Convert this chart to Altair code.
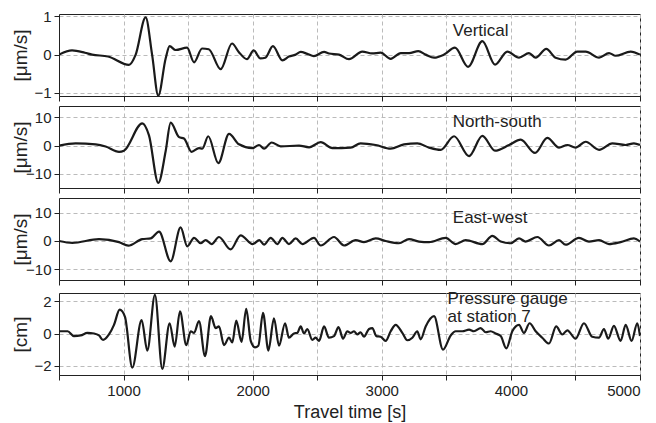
import altair as alt
import pandas as pd

# ---------------- data ----------------
t_vert = [500, 601, 700, 756, 880, 1042, 1094, 1171, 1221, 1269, 1326, 1357, 1403, 1492, 1546,
          1608, 1660, 1752, 1840, 1892, 1956, 2008, 2060, 2098, 2157, 2230, 2281, 2333, 2372,
          2423, 2474, 2553, 2591, 2669, 2746, 2849, 2925, 2991, 3069, 3147, 3211, 3283, 3340,
          3405, 3482, 3567, 3668, 3779, 3877, 3972, 4063, 4140, 4192, 4274, 4346, 4424, 4514,
          4579, 4683, 4760, 4811, 4928, 5000]
v_vert = [0.0, 0.11, 0.05, 0.0, -0.05, -0.27, 0.0, 0.97, 0.0, -1.07, -0.1, 0.22, 0.12, 0.18, -0.2,
          0.16, 0.14, -0.38, 0.29, 0.07, -0.12, 0.11, -0.1, -0.08, 0.22, -0.15, -0.05, 0.0, 0.07,
          0.02, -0.04, 0.07, 0.03, 0.0, -0.12, 0.08, 0.03, 0.05, -0.11, 0.04, 0.04, 0.09, 0.0,
          -0.08, 0.0, 0.18, -0.32, 0.35, -0.26, 0.08, -0.08, 0.04, -0.08, 0.15, -0.08, -0.13, 0.08,
          0.08, -0.08, 0.04, -0.03, 0.08, 0.0]

t_ns = [500, 629, 784, 861, 965, 1003, 1145, 1197, 1269, 1326, 1365, 1430, 1468, 1527, 1584,
        1610, 1656, 1734, 1817, 1894, 1997, 2049, 2088, 2147, 2217, 2359, 2437, 2527, 2617,
        2759, 2836, 2953, 3069, 3172, 3275, 3366, 3456, 3560, 3676, 3779, 3877, 3986, 4076,
        4187, 4282, 4373, 4437, 4501, 4579, 4683, 4786, 4889, 4953, 5000]
v_ns = [0.0, 0.8, 0.45, -0.3, -2.2, -1.8, 7.85, 3.6, -13.2, -2.0, 8.1, 3.0, 2.5, -2.2, -0.9,
        -1.1, 3.3, -6.2, 4.15, 0.45, -0.9, 0.2, -1.1, 1.1, -0.3, 0.0, -0.6, 1.2, -0.9,
        -0.7, 0.8, 0.2, -1.1, 0.45, 0.8, -0.7, -1.5, 3.3, -3.7, 3.4, -1.8, 0.2, 2.1,
        -2.6, 2.7, -0.7, 0.2, -0.7, 1.35, -1.5, 0.8, 0.2, 0.8, 0.2]

t_ew = [500, 603, 810, 965, 1037, 1145, 1210, 1275, 1365, 1442, 1494, 1546, 1597, 1636, 1682,
        1739, 1829, 1907, 2000, 2052, 2088, 2140, 2191, 2230, 2281, 2333, 2385, 2475, 2527,
        2630, 2708, 2798, 2862, 2953, 3030, 3133, 3211, 3288, 3366, 3495, 3572, 3650, 3779,
        3856, 3921, 3998, 4063, 4114, 4205, 4295, 4373, 4424, 4527, 4605, 4683, 4760, 4850,
        4953, 5000]
v_ew = [0.0, -0.67, 0.67, -0.4, -1.67, 0.67, 0.9, 3.3, -7.2, 4.8, -1.9, 1.1, -0.8, 0.33, -1.1,
        1.4, -3.0, 2.0, -1.1, 0.3, -1.3, 1.1, -1.1, 1.1, -1.1, 0.9, -1.1, 1.1, -1.6,
        1.4, -1.6, 0.3, -0.4, 0.9, 0.0, -0.8, 0.67, -0.2, -0.4, 1.1, -1.1, 0.3, -1.1,
        1.8, -0.2, -0.8, 0.9, -0.2, 1.4, -1.6, 0.3, -1.3, 1.1, -0.2, 0.3, -1.1, -0.4,
        0.9, -0.2]

t_pg = [500, 567, 616, 668, 720, 771, 810, 841, 887, 926, 970, 1011, 1068, 1140, 1184, 1243,
        1300, 1357, 1396, 1437, 1486, 1520, 1546, 1584, 1631, 1677, 1713, 1739, 1778, 1817,
        1842, 1873, 1914, 1950, 1985, 2018, 2044, 2080, 2122, 2165, 2204, 2251, 2281, 2320,
        2346, 2372, 2398, 2423, 2462, 2488, 2514, 2553, 2591, 2630, 2665, 2700, 2733, 2759,
        2785, 2810, 2836, 2862, 2901, 2927, 2958, 2991, 3030, 3069, 3108, 3159, 3198, 3237,
        3275, 3301, 3340, 3405, 3474, 3534, 3572, 3624, 3676, 3714, 3766, 3805, 3843, 3882,
        3921, 3965, 4011, 4063, 4101, 4145, 4192, 4243, 4295, 4351, 4398, 4437, 4501, 4566,
        4630, 4682, 4721, 4754, 4798, 4850, 4889, 4935, 4979, 5000]
v_pg = [0.14, 0.14, -0.16, -0.12, 0.04, 0.0, -0.12, -0.4, -0.06, 0.54, 1.48, 1.04, -2.12, 0.84, -1.06, 2.4,
        -2.2, 0.64, -0.82, 1.38, -0.72, 0.14, 0.04, 0.78, -1.4, 1.08, 0.34, 0.44, -0.72, -0.26,
        -0.56, 0.8, -0.52, 1.54, -0.46, -0.86, -0.76, 1.28, -1.06, 0.94, -0.76, 0.64, -0.26, 0.0,
        0.04, 0.44, 0.0, 0.28, -0.4, -0.26, -0.46, 0.44, -0.26, -0.16, 0.4, -0.32, 0.14, 0.04,
        0.14, -0.06, 0.08, -0.2, 0.28, 0.34, -0.16, -0.2, -0.46, 0.14, 0.54, 0.04, -0.42, -0.26,
        0.14, -0.36, 0.44, 1.08, -1.0, -0.12, 0.14, 0.14, 0.24, 0.14, 0.34, 0.08, 0.14, 0.0,
        -0.16, -0.92, 0.14, 0.54, 0.04, 0.64, 0.14, -0.26, -0.62, 0.44, -0.06, 0.2, -0.32, 0.64,
        -0.2, -0.26, 0.28, -0.32, 0.48, -0.46, 0.54, -0.46, 0.64, -0.16]

panel_units = ["[μm/s]", "[μm/s]", "[μm/s]", "[cm]"]
panel_ticks = [[-1, 0, 1], [-10, 0, 10], [-10, 0, 10], [-2, 0, 2]]
panel_domains = [[-1.08, 1.06], [-15, 14], [-13.8, 15.2], [-2.58, 2.52]]

label_lines = [["Vertical"], ["North-south"], ["East-west"], ["Pressure gauge", "at station 7"]]
label_x = [[3550], [3550], [3550], [3510, 3510]]
label_y = [[0.62], [8.4], [8.1], [2.12, 1.0]]

x_ticks = [500, 1000, 1500, 2000, 2500, 3000, 3500, 4000, 4500, 5000]
x_domain = [500, 5000]

series_t = [t_vert, t_ns, t_ew, t_pg]
series_v = [v_vert, v_ns, v_ew, v_pg]

FONT = "Liberation Sans"
W, H = 581, 82

panels = []
for i in range(4):
    df = pd.DataFrame({"t": series_t[i], "v": series_v[i]})
    ann = pd.DataFrame({"x": label_x[i], "y": label_y[i], "txt": label_lines[i]})
    last = i == 3
    if last:
        xaxis = alt.Axis(
            values=x_ticks,
            labelExpr="datum.value % 1000 == 0 && datum.value > 500 ? datum.label : ''",
            format="d", title="Travel time [s]", grid=True,
        )
    else:
        xaxis = alt.Axis(values=x_ticks, labels=False, title=None, grid=True,
                         minExtent=0, maxExtent=5)
    yaxis = alt.Axis(values=panel_ticks[i], title=panel_units[i], grid=True,
                     titleX=-29, titleY=H / 2)
    xs = alt.Scale(domain=x_domain, nice=False, zero=False)
    ys = alt.Scale(domain=panel_domains[i], nice=False, zero=False)
    line = alt.Chart(df).mark_line(color="#1a1a1a", strokeWidth=2.2, interpolate="monotone",
                                   clip=True).encode(
        x=alt.X("t:Q", scale=xs, axis=xaxis),
        y=alt.Y("v:Q", scale=ys, axis=yaxis),
    )
    txt = alt.Chart(ann).mark_text(align="left", baseline="middle", font=FONT, fontSize=17,
                                   color="#222").encode(
        x=alt.X("x:Q", scale=xs),
        y=alt.Y("y:Q", scale=ys),
        text="txt:N",
    )
    panels.append(alt.layer(line, txt).properties(width=W, height=H))

chart = alt.vconcat(*panels, spacing=3).configure(
    padding={"left": 2, "top": 0, "right": 5, "bottom": 5},
).configure_view(
    stroke="#222", strokeWidth=1,
).configure_axis(
    labelFont=FONT, titleFont=FONT, labelFontSize=15, titleFontSize=19,
    labelColor="#222", titleColor="#222", titleFontWeight="normal",
    domainColor="#222", tickColor="#222", tickSize=5,
    gridColor="#bbbbbb", gridDash=[4, 3], gridWidth=1,
    labelPadding=3,
).configure_axisX(titlePadding=5, titleFontSize=18)

chart.save("out.html", embed_options={"renderer": "svg", "actions": False})
